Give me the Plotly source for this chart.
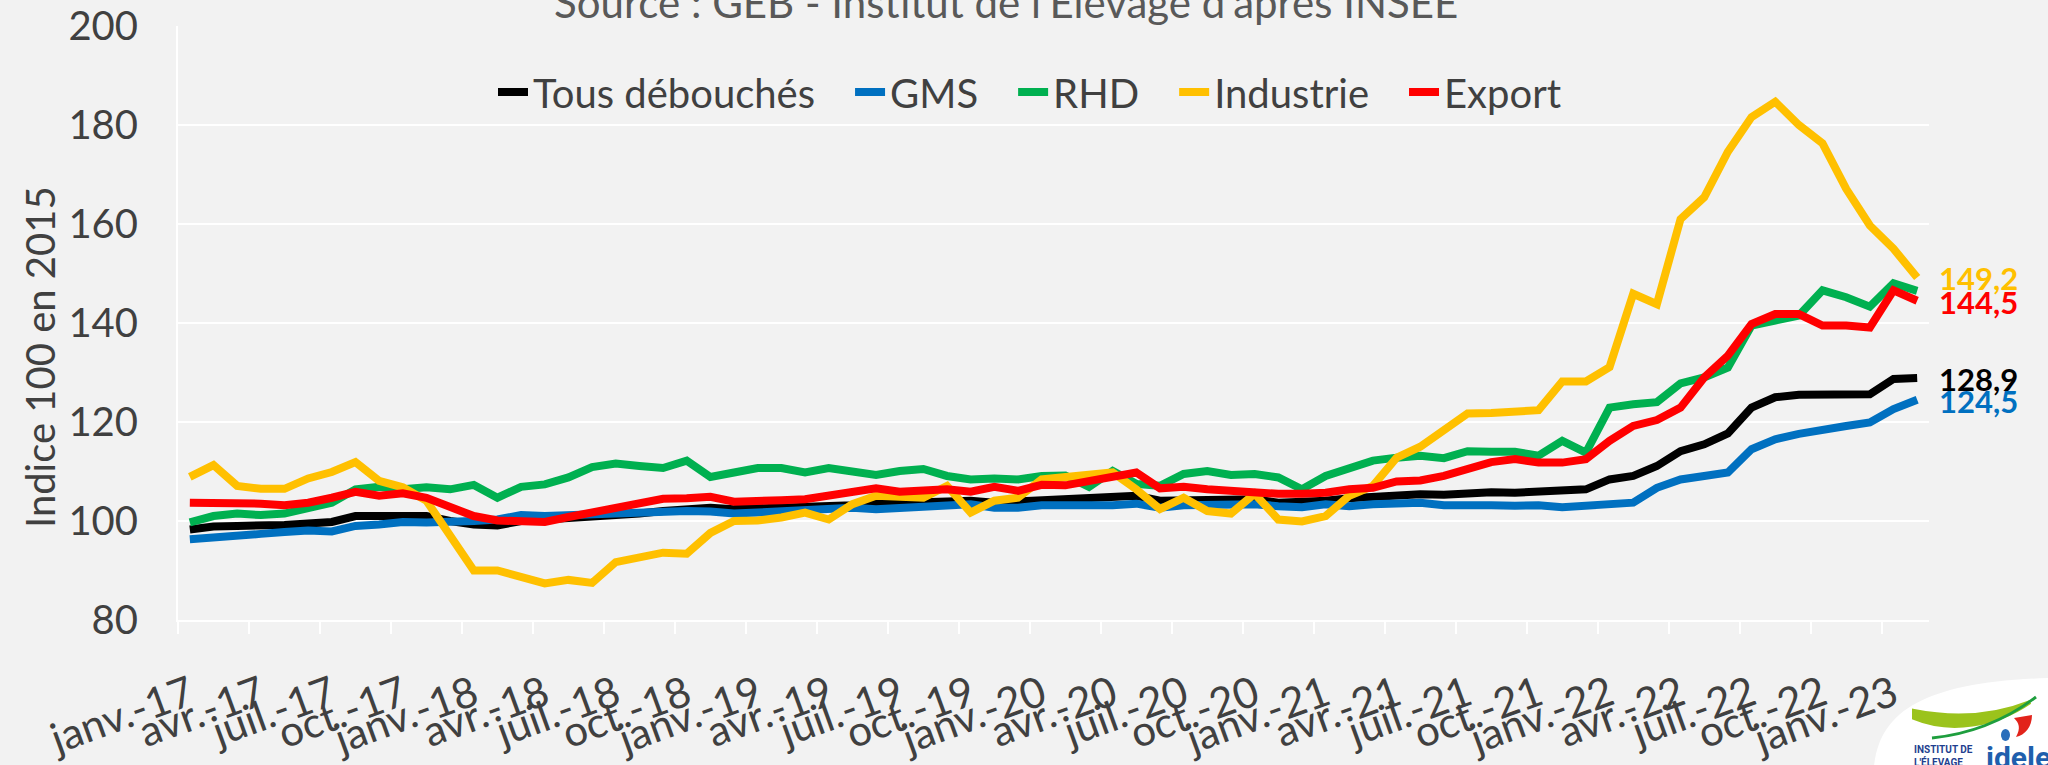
import plotly.graph_objects as go

# ---------------- data ----------------
noms_mois = ["janv.", "févr.", "mars", "avr.", "mai", "juin",
             "juil.", "août", "sept.", "oct.", "nov.", "déc."]
annees = ["17", "18", "19", "20", "21", "22", "23"]
mois = [f"{m}-{a}" for a in annees for m in noms_mois][:74]   # janv.-17 .. févr.-23

tous_debouches = [98.3, 98.9, 99.0, 99.0, 99.2, 99.5, 99.8, 101.0, 101.0, 101.4, 101.0, 100.0,
                  99.3, 99.1, 100.0, 100.3, 100.5, 100.7, 100.9, 101.5, 102.0, 102.4, 102.7, 102.4,
                  102.5, 102.7, 102.9, 103.0, 103.2, 103.5, 103.7, 103.9, 104.1, 104.1, 103.7, 103.9,
                  104.4, 104.5, 104.7, 104.7, 105.1, 104.1, 104.1, 104.2, 104.2, 104.4, 103.7, 103.7,
                  104.1, 104.6, 104.9, 105.3, 105.4, 105.3, 105.7, 105.8, 105.7, 105.9, 106.1, 106.4,
                  108.4, 109.1, 111.1, 114.1, 115.5, 117.7, 122.9, 125.0, 125.5, 125.5, 125.3, 125.6,
                  128.7, 128.9]
gms = [96.3, 96.8, 97.2, 97.4, 97.8, 98.1, 97.9, 99.0, 99.3, 99.8, 99.7, 99.7,
       100.0, 100.3, 101.2, 101.0, 101.2, 101.2, 101.4, 101.7, 101.9, 102.0, 101.9, 101.5,
       101.7, 102.0, 102.4, 102.4, 102.7, 102.4, 102.7, 102.8, 103.2, 103.4, 102.7, 102.7,
       103.2, 103.1, 103.2, 103.2, 103.5, 102.7, 103.2, 103.2, 103.5, 103.4, 103.0, 102.8,
       103.4, 103.0, 103.4, 103.7, 103.7, 103.2, 103.4, 103.2, 103.1, 103.2, 102.8, 103.1,
       103.4, 103.7, 106.7, 108.4, 109.1, 109.8, 114.5, 116.5, 117.6, 118.2, 119.2, 119.9,
       122.6, 124.5]
rhd = [99.7, 101.0, 101.5, 101.2, 101.5, 102.4, 103.7, 106.4, 106.9, 106.4, 106.8, 106.4,
       107.3, 104.7, 106.9, 107.4, 108.8, 110.9, 111.6, 111.1, 110.7, 112.2, 108.9, 109.8,
       110.7, 110.7, 109.8, 110.7, 109.8, 109.3, 110.1, 110.5, 109.1, 108.4, 108.6, 108.4,
       109.1, 109.2, 106.9, 110.1, 107.5, 107.1, 109.5, 110.1, 109.3, 109.5, 108.8, 106.4,
       109.1, 110.5, 112.2, 112.8, 113.2, 112.7, 114.1, 114.0, 114.0, 113.2, 116.2, 113.8,
       122.9, 123.6, 124.0, 127.8, 129.0, 131.0, 139.5, 140.5, 141.5, 146.6, 145.2, 143.3,
       148.0, 146.5]
industrie = [108.9, 111.3, 107.1, 106.5, 106.5, 108.6, 109.9, 111.9, 108.1, 106.8, 104.1, 97.3,
             90.0, 90.0, 88.9, 87.4, 88.1, 87.5, 91.7, 92.6, 93.6, 93.4, 97.6, 100.0,
             100.1, 100.7, 101.7, 100.3, 103.4, 105.1, 104.7, 104.7, 107.1, 101.7, 104.1, 104.7,
             108.4, 108.9, 109.5, 109.8, 106.4, 102.4, 104.7, 102.0, 101.5, 105.5, 100.3, 99.9,
             101.0, 105.1, 107.1, 112.8, 115.0, 118.6, 121.7, 121.8, 121.9, 122.4, 128.2, 128.2,
             131.1, 145.9, 143.8, 161.0, 165.4, 174.6, 181.6, 184.7, 180.0, 176.3, 167.1, 159.7,
             155.0, 149.2]
export = [103.7, 103.7, 103.9, 103.5, 103.2, 103.7, 104.7, 105.9, 105.1, 105.6, 104.7, 102.7,
          101.0, 100.1, 99.8, 99.8, 100.8, 101.7, 102.8, 103.5, 104.5, 104.6, 104.9, 103.9,
          103.9, 104.2, 104.4, 105.1, 105.7, 106.6, 105.9, 106.2, 106.4, 105.9, 106.9, 106.1,
          107.3, 107.2, 108.1, 109.1, 109.8, 106.6, 106.9, 106.4, 106.1, 105.5, 105.5, 105.5,
          105.7, 106.4, 106.7, 108.0, 108.2, 109.1, 110.7, 111.9, 112.5, 111.8, 111.8, 112.5,
          116.2, 119.2, 120.4, 122.9, 129.0, 133.4, 139.8, 141.8, 141.8, 139.5, 139.5, 139.1,
          146.6, 144.5]

series_noms = ["Tous débouchés", "GMS", "RHD", "Industrie", "Export"]
series_vals = [tous_debouches, gms, rhd, industrie, export]
series_couleurs = ["#000000", "#0070C0", "#00B050", "#FFC000", "#FF0000"]

titre_source = "Source : GEB - Institut de l'Elevage d'après INSEE"
titre_y = "Indice 100 en 2015"
y_ticks = [80, 100, 120, 140, 160, 180, 200]

# ---------------- figure ----------------
W, H = 2048, 765
ML, MR, MT, MB = 178, 119, 26, 145
PW, PH = W - ML - MR, H - MT - MB


def px(x):
    return (x - ML) / PW


def py(y):
    return (H - MB - y) / PH


FONT = "Lato, 'Open Sans', sans-serif"
GRIS = "#404040"

x = list(range(len(mois)))
fig = go.Figure()
for k, (nom, vals, col) in enumerate(zip(series_noms, series_vals, series_couleurs)):
    legende = nom + ("\u2003" if k < len(series_noms) - 1 else "")   # spacing between legend entries
    fig.add_trace(go.Scatter(x=x, y=vals, name=legende, mode="lines",
                             line=dict(color=col, width=8)))

# end-of-series value labels
for vals, col in [(industrie, "#FFC000"), (export, "#FF0000"),
                  (tous_debouches, "#000000"), (gms, "#0070C0")]:
    fig.add_annotation(x=x[-1], y=vals[-1], xref="x", yref="y",
                       text=f"{vals[-1]:.1f}".replace(".", ","),
                       showarrow=False, xanchor="left", yanchor="middle",
                       xshift=20, yshift=-1,
                       font=dict(family=FONT, size=31, color=col, weight="bold"))

# source (cut at the top of the page)
fig.add_annotation(x=px(770 / 0.7656), y=1.0, xref="paper", yref="paper", text=titre_source,
                   showarrow=False, xanchor="center", yanchor="bottom", yshift=-3,
                   font=dict(family=FONT, size=42, color="#595959"))
# y title
fig.add_annotation(x=px(40), y=py(357), xref="paper", yref="paper", text=titre_y,
                   textangle=-90, showarrow=False, xanchor="center", yanchor="middle",
                   font=dict(family=FONT, size=40, color=GRIS))

# logo (decorative)
shapes = []
shapes.append(dict(type="path", xref="paper", yref="paper",
                   path=(f"M{px(1874)},{py(766)} C{px(1880)},{py(708)} {px(1930)},{py(682)} {px(2048)},{py(678)} "
                         f"L{px(2048)},{py(766)} Z"),
                   fillcolor="white", line=dict(width=0), layer="above"))
shapes.append(dict(type="path", xref="paper", yref="paper",
                   path=(f"M{px(1914)},{py(718)} C{px(1950)},{py(733)} {px(1995)},{py(726)} {px(2030)},{py(702)} "
                         f"C{px(1990)},{py(718)} {px(1950)},{py(718)} {px(1914)},{py(711)} Z"),
                   fillcolor="#9BC31C", line=dict(color="#9BC31C", width=4), layer="above"))
shapes.append(dict(type="path", xref="paper", yref="paper",
                   path=f"M{px(1932)},{py(738)} Q{px(1990)},{py(732)} {px(2036)},{py(697)}",
                   line=dict(color="#1E9E3E", width=3), layer="above"))
shapes.append(dict(type="path", xref="paper", yref="paper",
                   path=(f"M{px(2014)},{py(718)} L{px(2032)},{py(715)} C{px(2032)},{py(727)} {px(2025)},{py(735)} {px(2016)},{py(737)} "
                         f"C{px(2021)},{py(728)} {px(2019)},{py(723)} {px(2014)},{py(718)} Z"),
                   fillcolor="#E2231A", line=dict(width=0), layer="above"))
shapes.append(dict(type="circle", xref="paper", yref="paper",
                   x0=px(2001), x1=px(2010), y0=py(741), y1=py(729),
                   fillcolor="#2A6EBB", line=dict(width=0), layer="above"))
fig.update_layout(shapes=shapes)
fig.add_annotation(x=px(1912), y=py(742), xref="paper", yref="paper",
                   text="INSTITUT DE<br>L'ÉLEVAGE", showarrow=False, align="left",
                   xanchor="left", yanchor="top",
                   font=dict(family="Roboto", size=10, color="#1F3F8F", weight="bold"))
fig.add_annotation(x=px(1984), y=py(738), xref="paper", yref="paper",
                   text="idele", showarrow=False, xanchor="left", yanchor="top",
                   font=dict(family="Roboto", size=30, color="#1F5FAD", weight="bold"))

tickvals = x[::3]
fig.update_layout(
    width=W, height=H,
    margin=dict(l=ML, r=MR, t=MT, b=MB, pad=0, autoexpand=False),
    paper_bgcolor="#F2F2F2", plot_bgcolor="#F2F2F2",
    font=dict(family=FONT, color=GRIS),
    showlegend=True,
    legend=dict(orientation="h", x=px(1030), y=py(92), xanchor="center", yanchor="middle",
                bgcolor="rgba(0,0,0,0)", font=dict(family=FONT, size=40, color=GRIS),
                itemwidth=30, traceorder="normal"),
    xaxis=dict(range=[-0.5, len(mois) - 0.5], tickmode="array", tickvals=tickvals,
               ticktext=[mois[i] for i in tickvals], tickangle=-20, automargin=False,
               tickfont=dict(family=FONT, size=42, color=GRIS),
               showgrid=False, zeroline=False, showline=True, linecolor="white", linewidth=2,
               ticks="", ticklabelstandoff=32,
               minor=dict(tickmode="array", tickvals=[v - 0.5 for v in tickvals],
                          ticks="outside", ticklen=12, tickcolor="white", tickwidth=2,
                          showgrid=False)),
    yaxis=dict(range=[80, 200], tickmode="array", tickvals=y_ticks, automargin=False,
               tickfont=dict(family=FONT, size=40, color=GRIS),
               showgrid=True, gridcolor="white", gridwidth=2, zeroline=False,
               showline=True, linecolor="white", linewidth=2, ticks="",
               ticklabelstandoff=30),
)

fig.write_html("out.html", config={"displayModeBar": False},
               post_script="document.body.style.margin='0px';document.body.style.overflow='hidden';")
